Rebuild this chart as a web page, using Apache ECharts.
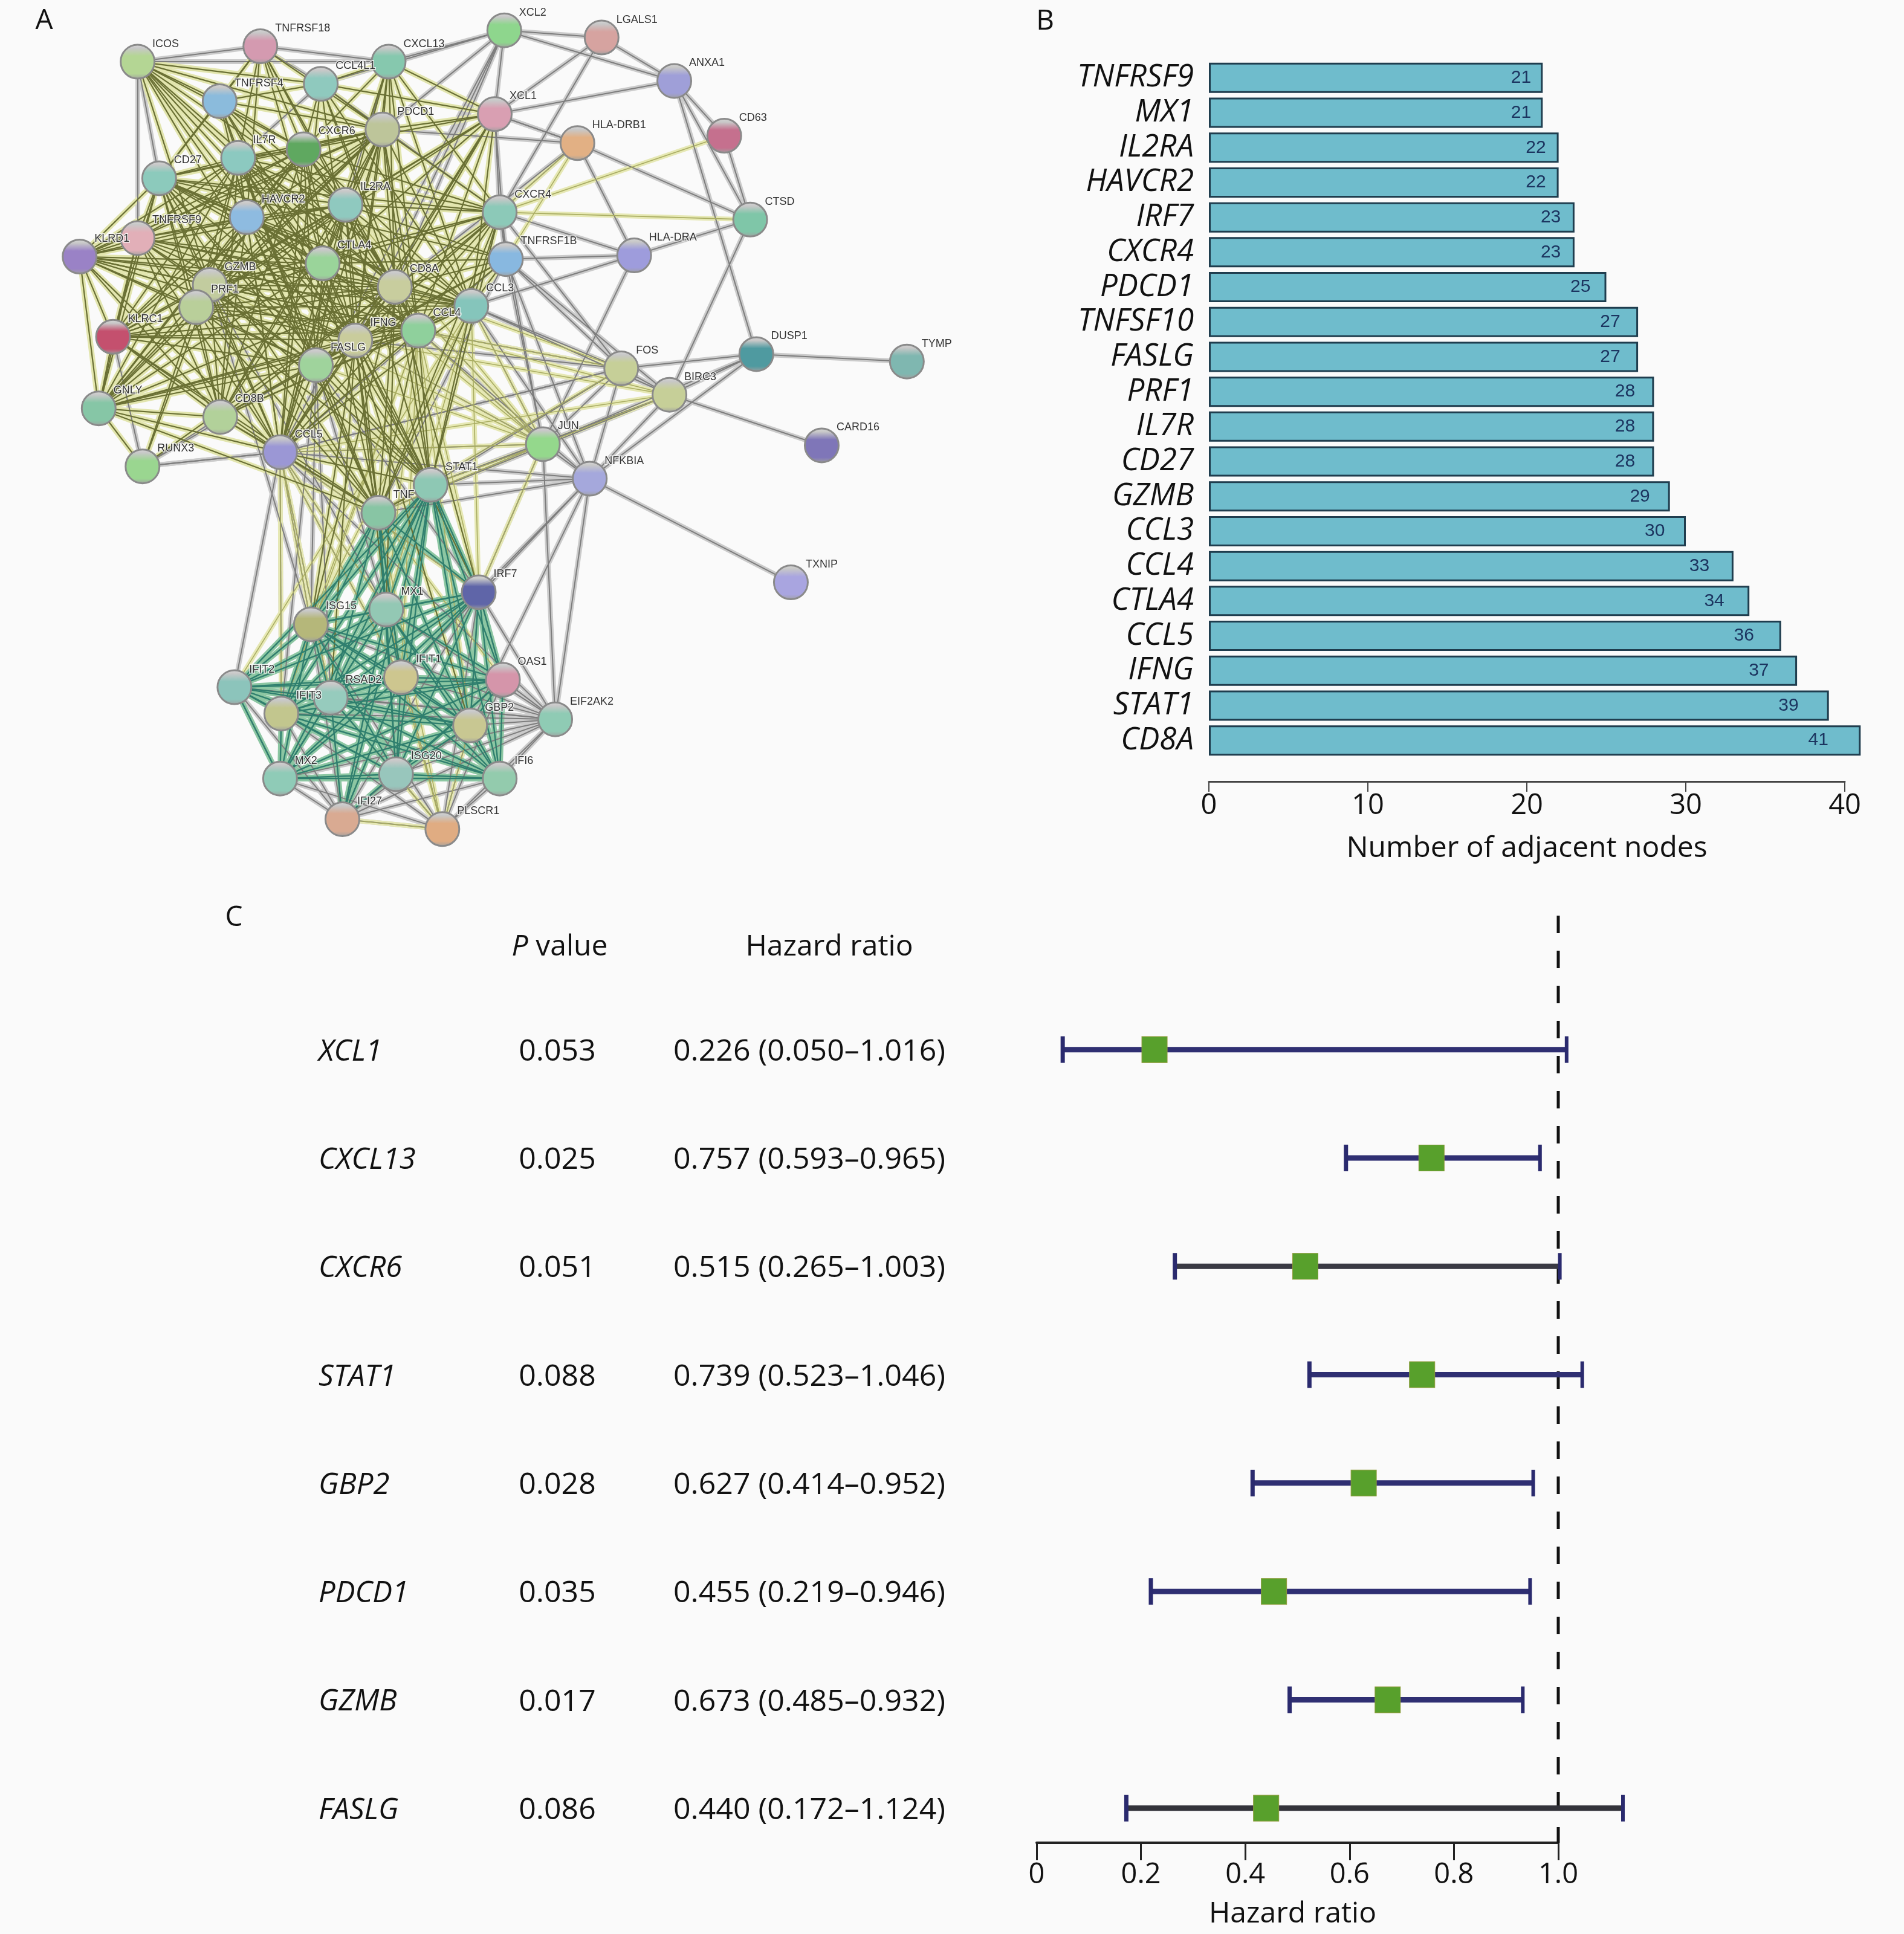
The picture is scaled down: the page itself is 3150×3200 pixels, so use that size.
<!DOCTYPE html>
<html>
<head>
<meta charset="utf-8">
<style>html,body{margin:0;padding:0;background:#fafafa}#c{width:3150px;height:3200px}</style>
<script src="https://cdn.jsdelivr.net/npm/echarts@6/dist/echarts.min.js"></script>
</head>
<body>
<div id="c"></div>
<script>
// ---------- Panel B data ----------
const barGenes = ['TNFRSF9','MX1','IL2RA','HAVCR2','IRF7','CXCR4','PDCD1','TNFSF10','FASLG','PRF1','IL7R','CD27','GZMB','CCL3','CCL4','CTLA4','CCL5','IFNG','STAT1','CD8A'];
const barValues = [21,21,22,22,23,23,25,27,27,28,28,28,29,30,33,34,36,37,39,41];
const barTicks = [0,10,20,30,40];

// ---------- Panel C data ----------
const hrGenes = ['XCL1','CXCL13','CXCR6','STAT1','GBP2','PDCD1','GZMB','FASLG'];
const hrP = ['0.053','0.025','0.051','0.088','0.028','0.035','0.017','0.086'];
const hrMean = [0.226,0.757,0.515,0.739,0.627,0.455,0.673,0.440];
const hrLow = [0.050,0.593,0.265,0.523,0.414,0.219,0.485,0.172];
const hrHigh = [1.016,0.965,1.003,1.046,0.952,0.946,0.932,1.124];
const hrText = ['0.226 (0.050–1.016)','0.757 (0.593–0.965)','0.515 (0.265–1.003)','0.739 (0.523–1.046)','0.627 (0.414–0.952)','0.455 (0.219–0.946)','0.673 (0.485–0.932)','0.440 (0.172–1.124)'];
const hrLineColors = ['#2f2f72','#2f2f72','#3a3a44','#2f2f72','#2f2f72','#2f2f72','#2f2f72','#33333a'];
const hrTickLabels = {0:'0',0.2:'0.2',0.4:'0.4',0.6:'0.6',0.8:'0.8',1:'1.0'};

// ---------- Panel A data: STRING network, node name, x, y (read in picture units), colour ----------
const netNodes = [
['ICOS',111.5,50,'#b4d694'],['TNFRSF18',211,37.5,'#d49ab0'],['CCL4L1',260,68,'#8fc9be'],['CXCL13',315,50,'#86c8ae'],
['XCL2',408.7,24.6,'#8ed68d'],['LGALS1',487.6,30.4,'#d6a3a0'],['ANXA1',546.5,65.6,'#9f9fd8'],['XCL1',401,92.5,'#d99fb2'],
['CD63',587,110,'#c5708e'],['HLA-DRB1',468,116,'#e2b084'],['TNFRSF4',178,82,'#8bbbdc'],['IL7R',193,128,'#8cc9c0'],
['CXCR6',246,121,'#5fa860'],['PDCD1',310,105,'#bdc59a'],['CD27',129,144.5,'#8ccabc'],['IL2RA',280,166,'#8fc9bf'],
['HAVCR2',200,176,'#8ebbe0'],['TNFRSF9',111.5,193,'#e2afb8'],['KLRD1',64.5,208,'#9a82c6'],['CTLA4',261.5,213.5,'#9ad49a'],
['CXCR4',405,172,'#8cc9b8'],['TNFRSF1B',410,210,'#88b8e0'],['CTSD',608,178,'#7fc6a8'],['HLA-DRA',514,207,'#9e9cdc'],
['GZMB',170,231,'#c2cc9f'],['PRF1',159,249,'#b9cf9a'],['CD8A',320,232.5,'#c8cd9e'],['CCL3',382,248,'#85c5bb'],
['KLRC1',91.6,273,'#c4506e'],['CCL4',339,268,'#8fd09c'],['IFNG',288,276,'#c9cc9c'],['FASLG',256,296,'#9fd39c'],
['GNLY',80,331,'#86c6a6'],['CD8B',178.5,338,'#b2d19a'],['CCL5',227,366.5,'#9b97d5'],['RUNX3',115.5,378,'#9ad690'],
['FOS',503.5,298.6,'#c6cf98'],['BIRC3',542.6,320,'#c6cf98'],['DUSP1',613,287,'#4f9aa0'],['TYMP',735,293,'#7fb7b0'],
['CARD16',666,361,'#7f76b8'],['JUN',440,360,'#94d88c'],['NFKBIA',478,388,'#a5a8dc'],['TXNIP',641,472,'#a9a5e0'],
['TNF',306.7,415.6,'#88c5a4'],['STAT1',349,393,'#8ec8b4'],['IRF7',388,480,'#5f65a8'],['MX1',313,494,'#93c8b4'],
['ISG15',252,506,'#b5b77a'],['IFIT2',190,557,'#8cc4bb'],['IFIT3',228,578.4,'#c2c68e'],['RSAD2',268,565.5,'#96cbbd'],
['IFIT1',325,549,'#cdc68f'],['OAS1',407.6,551,'#d595aa'],['GBP2',381,588,'#c8c792'],['EIF2AK2',450,583,'#8fcbb4'],
['MX2',227,631,'#8fcbb7'],['ISG20',321,627.5,'#98c6bc'],['IFI6',405,631,'#93cbad'],['IFI27',277.5,664,'#d9aa92'],['PLSCR1',358.5,672,'#e0ac82']
];
// Densely linked groups (read as "everything touches everything" in the picture)
const immuneCore = ['CD27','IL7R','CXCR6','PDCD1','IL2RA','HAVCR2','TNFRSF9','KLRD1','CTLA4','GZMB','PRF1','CD8A','CCL3','KLRC1','CCL4','IFNG','FASLG','CCL5','CD8B','GNLY'];
const ifnCore = ['ISG15','MX1','IRF7','IFIT2','IFIT3','RSAD2','IFIT1','OAS1','GBP2','MX2','ISG20','IFI6'];
// Explicit links: [source, type, targets]
const netLinks = [
['ICOS','gray',['TNFRSF18','CXCL13','TNFRSF9','CD27']],
['ICOS','olive',['TNFRSF4','IL7R','CTLA4','PDCD1','IL2RA','HAVCR2','CD8A','GZMB','IFNG','CXCR6','CCL4L1','FASLG']],
['TNFRSF18','olive',['TNFRSF4','IL7R','CXCR6','CTLA4','CD27','PDCD1','IL2RA','HAVCR2','CD8A']],
['TNFRSF18','gray',['CCL4L1','CXCL13']],
['TNFRSF4','olive',['IL7R','CD27','CXCR6','CTLA4','CD8A','IL2RA','PDCD1','HAVCR2','IFNG','CCL4L1','FASLG']],
['CCL4L1','olive',['CXCL13','CXCR6','PDCD1','CCL3','CCL4','CCL5','CD8A','IFNG','XCL1']],
['CCL4L1','gray',['XCL2','CXCR4','IL7R']],
['CXCL13','olive',['CXCR6','PDCD1','CCL4','CCL5','CD8A','IFNG','CTLA4','XCL1','CCL3','CXCR4']],
['CXCL13','gray',['XCL2','IL2RA']],
['XCL2','gray',['LGALS1','ANXA1','XCL1','PDCD1','CD8A','IFNG','CCL5']],
['XCL1','olive',['CD8A','IFNG','CCL5','CCL4','CCL3','PDCD1','GZMB','PRF1','CTLA4','CXCR6','IL2RA']],
['XCL1','gray',['LGALS1','ANXA1','HLA-DRB1','CXCR4','TNFRSF1B']],
['LGALS1','gray',['ANXA1','CXCR4']],
['ANXA1','gray',['CD63','CTSD','DUSP1']],
['CD63','gray',['CTSD']],['CD63','yellow',['CXCR4']],
['CTSD','gray',['HLA-DRB1','HLA-DRA','BIRC3']],['CTSD','yellow',['CXCR4']],
['HLA-DRB1','gray',['HLA-DRA','XCL1','PDCD1','CXCR4','CD8A']],['HLA-DRB1','yellow',['IFNG','TNFRSF1B']],
['HLA-DRA','gray',['CXCR4','TNFRSF1B','CCL3','JUN']],
['CXCR4','olive',['CD8A','CCL5','CCL4','CCL3','IFNG','CTLA4','IL2RA','PDCD1','CXCR6','IL7R','FASLG','CD27','GZMB']],
['CXCR4','gray',['TNFRSF1B','FOS','STAT1','JUN']],
['TNFRSF1B','olive',['CD8A','IFNG','CCL3','CCL4','CTLA4','CD27','IL2RA','FASLG']],
['TNFRSF1B','gray',['FOS','JUN','BIRC3','NFKBIA','TNF','CCL5']],
['RUNX3','olive',['GNLY','PRF1','GZMB','CD8A']],['RUNX3','gray',['CCL5','CD8B','IFNG','KLRC1']],
['FOS','gray',['DUSP1','BIRC3','JUN','CCL3','CCL4','TNF','STAT1','NFKBIA','CCL5','IFNG']],
['FOS','yellow',['TNF','CCL4','CD8A']],
['BIRC3','gray',['DUSP1','CARD16','NFKBIA','TNF','STAT1','CCL3']],['BIRC3','yellow',['JUN','CCL4','CCL5','IFNG']],
['DUSP1','gray',['TYMP','JUN','NFKBIA']],
['NFKBIA','gray',['TXNIP','IRF7','EIF2AK2','TNF','STAT1','JUN','CCL5','GBP2','IFIT1','CCL4','CCL3']],
['JUN','gray',['IRF7','EIF2AK2','STAT1','TNF','CCL3','CCL4','CCL5','CD8A','IFNG']],
['JUN','yellow',['CCL5','CD8A','FASLG','GZMB','CTLA4','TNF','STAT1','CCL4','CCL3','IFNG','IL2RA','IRF7']],
['TNF','olive',['CCL5','CD8A','IFNG','CCL4','CCL3','GZMB','PRF1','FASLG','CTLA4','IL2RA','CXCR4','IL7R','STAT1','CD27','HAVCR2','CD8B','GNLY','KLRC1']],
['STAT1','olive',['CCL5','CD8A','IFNG','CCL4','CCL3','GZMB','PRF1','FASLG','CTLA4','IL2RA','CXCR4','IL7R','PDCD1','CD27','HAVCR2']],
['STAT1','teal',['IRF7','MX1','ISG15','IFIT1','IFIT2','IFIT3','RSAD2','OAS1','GBP2','MX2','ISG20','IFI6','IFI27']],
['TNF','teal',['IRF7','MX1','ISG15','IFIT1','IFIT3','RSAD2','GBP2','ISG20']],
['TNF','yellow',['MX1','IRF7','OAS1','IFIT1','ISG15','GBP2','PLSCR1','ISG20']],
['CCL5','gray',['IFIT2','IFIT3','ISG15','MX1','RSAD2','IFIT1','IRF7','RUNX3','FOS','EIF2AK2']],
['CCL5','yellow',['ISG15','MX1','IFIT1','RSAD2','IFIT3','IRF7','STAT1','TNF']],
['IFNG','olive',['MX1','ISG15','IRF7','IFIT1','RSAD2','GBP2']],
['CD8A','olive',['MX1','ISG15','IRF7']],
['CCL4','yellow',['MX1','ISG15','IRF7','IFIT3','GBP2','IFIT1']],
['CCL3','yellow',['ISG15','IRF7','IFIT2','MX1']],
['GZMB','gray',['MX1','ISG15']],['FASLG','gray',['ISG15','MX1','IRF7','RSAD2','IFIT3']],
['IRF7','gray',['EIF2AK2','OAS1','GBP2','IFI27','PLSCR1']],
['EIF2AK2','gray',['OAS1','GBP2','IFI6','ISG20','IFIT1','RSAD2','IFIT3','MX1','MX2','ISG15','IFIT2','PLSCR1','IFI27']],
['PLSCR1','gray',['IFI27','MX2','ISG20','IFI6','GBP2','OAS1','RSAD2','IFIT3','ISG15','MX1']],
['PLSCR1','yellow',['IFIT1','RSAD2','MX1','IFI27','GBP2','ISG20']],
['IFI27','gray',['MX2','ISG20','IFI6','GBP2','OAS1','RSAD2','IFIT3','IFIT2','ISG15','MX1','IFIT1']],
['IFI27','teal',['RSAD2','IFIT1','MX1','OAS1']],
['IFIT2','gray',['IFIT3','MX2','ISG15']]
];

// ---------- Link construction ----------
const linkStyle = {
  olive:{core:'#6a7034',coreW:2.2,halo:'#e2e5ae',haloW:9},
  gray:{core:'#7d7d7d',coreW:2,halo:'#cbcbcb',haloW:8},
  yellow:{core:'#a9ad62',coreW:1.6,halo:'#e6e8b4',haloW:8},
  teal:{core:'#2f7f6e',coreW:2.4,halo:'#8cc6a2',haloW:9}
};
const allLinks = [];
function pairs(list,type){for(let i=0;i<list.length;i++)for(let j=i+1;j<list.length;j++)allLinks.push([list[i],list[j],type]);}
netLinks.forEach(l=>l[2].forEach(t=>allLinks.push([l[0],t,l[1]])));
pairs(immuneCore,'olive');
pairs(ifnCore,'teal');
const typeOrder = {gray:0,yellow:1,olive:2,teal:3};
allLinks.sort((a,b)=>typeOrder[a[2]]-typeOrder[b[2]]);
const mkLinks = layer => allLinks.map(l=>{
  const s=linkStyle[l[2]];
  return {source:l[0],target:l[1],lineStyle:layer==='halo'?{color:s.halo,width:s.haloW,opacity:1}:{color:s.core,width:s.coreW,opacity:1}};
});
const nodeData = netNodes.map(n=>({
  name:n[0],value:[n[1],n[2]],
  itemStyle:{
    color:{type:'linear',x:0,y:0,x2:0,y2:1,colorStops:[{offset:0,color:'#d8d8d8'},{offset:.12,color:'#c8c8c8'},{offset:.34,color:n[3]},{offset:.84,color:n[3]},{offset:1,color:'#a0a0a0'}]},
    borderColor:'#8a8a8a',borderWidth:3
  }
}));

const FONT='"Open Sans"';
const INK='#111';
const chart = echarts.init(document.getElementById('c'),null,{renderer:'canvas',devicePixelRatio:1,width:3150,height:3200});
const FOREST_TOP=1515, FOREST_H=1534;
const rowMin=-1.236, rowMax=7.319;

chart.setOption({
  animation:false,
  backgroundColor:'#fafafa',
  textStyle:{fontFamily:FONT},
  grid:[
    {left:0,top:0,width:1633,height:1429},               // network
    {left:2000,top:100,width:1052,height:1154},          // bars
    {left:1715,top:FOREST_TOP,width:863,height:FOREST_H},// forest
    {left:527,top:FOREST_TOP+4,width:812,height:FOREST_H}// table
  ],
  xAxis:[
    {gridIndex:0,type:'value',min:0,max:800,show:false},
    {gridIndex:1,type:'value',min:0,max:40,interval:10,offset:39,splitLine:{show:false},
      axisLine:{show:true,lineStyle:{color:'#444',width:3}},axisTick:{show:true,length:17,lineStyle:{color:'#444',width:2}},
      axisLabel:{fontFamily:FONT,fontSize:47,color:INK,margin:17},
      name:'Number of adjacent nodes',nameLocation:'middle',nameGap:87,nameTextStyle:{fontFamily:FONT,fontSize:48,color:INK}},
    {gridIndex:2,type:'value',min:0,max:1,interval:0.2,splitLine:{show:false},
      axisLine:{show:true,onZero:false,lineStyle:{color:'#222',width:4}},axisTick:{show:true,length:29,lineStyle:{color:'#222',width:3}},
      axisLabel:{fontFamily:FONT,fontSize:47,color:INK,margin:30,formatter:v=>hrTickLabels[+v.toFixed(1)]},
      name:'Hazard ratio',nameLocation:'middle',nameGap:94,nameTextStyle:{fontFamily:FONT,fontSize:48,color:INK,padding:[0,16,0,0]}},
    {gridIndex:3,type:'value',min:0,max:812,show:false}
  ],
  yAxis:[
    {gridIndex:0,type:'value',min:0,max:700,inverse:true,show:false},
    {gridIndex:1,type:'category',data:barGenes,inverse:true,axisLine:{show:false},axisTick:{show:false},
      axisLabel:{interval:0,fontFamily:FONT,fontStyle:'italic',fontSize:51,color:INK,margin:25}},
    {gridIndex:2,type:'value',min:rowMin,max:rowMax,inverse:true,show:false},
    {gridIndex:3,type:'value',min:rowMin,max:rowMax,inverse:true,show:false}
  ],
  graphic:[
    {type:'text',x:73,y:35,style:{text:'A',font:'46px '+FONT,fill:INK,align:'center',verticalAlign:'middle'}},
    {type:'text',x:1729,y:36,style:{text:'B',font:'46px '+FONT,fill:INK,align:'center',verticalAlign:'middle'}},
    {type:'text',x:387,y:1519,style:{text:'C',font:'46px '+FONT,fill:INK,align:'center',verticalAlign:'middle'}},
    {type:'text',x:926,y:1567,style:{text:'{i|P} value',align:'center',verticalAlign:'middle',
      rich:{i:{font:'italic 48px '+FONT,fill:INK}},font:'48px '+FONT,fill:INK}},
    {type:'text',x:1372,y:1567,style:{text:'Hazard ratio',font:'48px '+FONT,fill:INK,align:'center',verticalAlign:'middle'}}
  ],
  series:[
    // network: wide pale edge band under everything
    {type:'graph',coordinateSystem:'cartesian2d',xAxisIndex:0,yAxisIndex:0,symbol:'circle',symbolSize:56,z:2,silent:true,
      data:netNodes.map(n=>({name:n[0],value:[n[1],n[2]],itemStyle:{color:'rgba(0,0,0,0)'}})),links:mkLinks('halo'),label:{show:false}},
    // network: thin edge core, nodes and labels
    {type:'graph',coordinateSystem:'cartesian2d',xAxisIndex:0,yAxisIndex:0,symbol:'circle',symbolSize:56,z:3,silent:true,
      data:nodeData,links:mkLinks('core'),
      label:{show:true,position:[54,0],align:'left',verticalAlign:'middle',fontFamily:'"Liberation Sans"',fontSize:18,color:'#333',
        textBorderColor:'rgba(250,250,250,.85)',textBorderWidth:3}},
    // bars
    {type:'bar',xAxisIndex:1,yAxisIndex:1,data:barValues,barWidth:50,clip:false,
      itemStyle:{color:'#6fbccc',borderColor:'#1f3d4e',borderWidth:3},
      label:{show:true,position:['93.5%','50%'],align:'center',verticalAlign:'middle',fontFamily:'"Liberation Sans"',fontSize:30,color:'#1c3560'}},
    // reference line
    {type:'line',xAxisIndex:2,yAxisIndex:2,data:[[1,rowMin],[1,rowMax]],symbol:'none',z:3,
      lineStyle:{color:'#111',width:5,type:[29,29]}},
    // whiskers
    {type:'custom',xAxisIndex:2,yAxisIndex:2,z:4,clip:false,
      data:hrGenes.map((g,i)=>[hrLow[i],hrHigh[i],i]),
      encode:{x:[0,1],y:2},
      renderItem:(params,api)=>{
        const a=api.coord([api.value(0),api.value(2)]),b=api.coord([api.value(1),api.value(2)]);
        const c=hrLineColors[params.dataIndex],h=22;
        return {type:'group',children:[
          {type:'line',shape:{x1:a[0],y1:a[1],x2:b[0],y2:b[1]},style:{stroke:c,lineWidth:9}},
          {type:'line',shape:{x1:a[0],y1:a[1]-h,x2:a[0],y2:a[1]+h},style:{stroke:'#2a2a6e',lineWidth:7}},
          {type:'line',shape:{x1:b[0],y1:b[1]-h,x2:b[0],y2:b[1]+h},style:{stroke:'#2a2a6e',lineWidth:6}}
        ]};
      }},
    // HR squares
    {type:'scatter',xAxisIndex:2,yAxisIndex:2,z:5,symbol:'rect',symbolSize:[42,43],clip:false,
      data:hrMean.map((m,i)=>[m,i]),itemStyle:{color:'#58a02c',opacity:1,borderColor:'#8f9a3a',borderWidth:1}},
    // table columns
    {type:'scatter',xAxisIndex:3,yAxisIndex:3,symbolSize:1,itemStyle:{opacity:1,color:'rgba(0,0,0,0)'},data:hrGenes.map((g,i)=>({value:[0,i],label:{formatter:g}})),
      label:{show:true,position:'inside',distance:0,align:'left',verticalAlign:'middle',fontFamily:FONT,fontStyle:'italic',fontSize:49,color:INK}},
    {type:'scatter',xAxisIndex:3,yAxisIndex:3,symbolSize:1,itemStyle:{opacity:1,color:'rgba(0,0,0,0)'},data:hrP.map((p,i)=>({value:[395,i],label:{formatter:p}})),
      label:{show:true,position:'inside',align:'center',verticalAlign:'middle',fontFamily:FONT,fontSize:50,color:INK}},
    {type:'scatter',xAxisIndex:3,yAxisIndex:3,symbolSize:1,itemStyle:{opacity:1,color:'rgba(0,0,0,0)'},data:hrText.map((t,i)=>({value:[812,i],label:{formatter:t}})),
      label:{show:true,position:'inside',align:'center',verticalAlign:'middle',fontFamily:FONT,fontSize:50,color:INK}}
  ]
});
</script>
</body>
</html>
